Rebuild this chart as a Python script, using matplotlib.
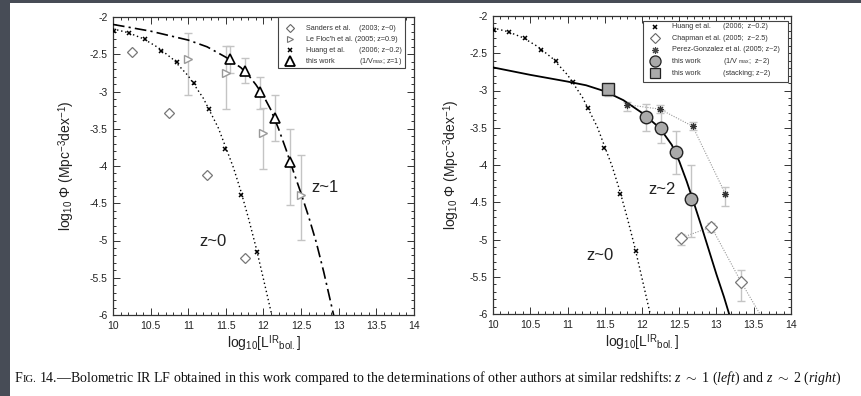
import numpy as np
import matplotlib.pyplot as plt
from matplotlib.patches import Rectangle
from matplotlib.ticker import MultipleLocator, FuncFormatter

plt.rcParams['font.family'] = ['Liberation Sans', 'DejaVu Sans']
plt.rcParams['axes.unicode_minus'] = False
plt.rcParams['mathtext.fontset'] = 'custom'
plt.rcParams['mathtext.rm'] = 'Liberation Sans'
plt.rcParams['mathtext.it'] = 'Liberation Serif:italic'

# ---------------- data ----------------
# Huang et al. (2006; z~0.2) - both panels
huang_x = [10.01, 10.21, 10.43, 10.64, 10.85, 11.07, 11.27, 11.49, 11.70, 11.92]
huang_y = [-2.19, -2.22, -2.30, -2.46, -2.60, -2.89, -3.24, -3.77, -4.39, -5.16]

# z~0 fit (dotted), both panels
fit0_x = [10.0, 10.2, 10.4, 10.6, 10.8, 11.0, 11.2, 11.4, 11.6, 11.7, 11.8, 11.9, 12.0, 12.11]
fit0_y = [-2.16, -2.21, -2.29, -2.41, -2.57, -2.79, -3.09, -3.49, -4.02, -4.34, -4.70, -5.09, -5.52, -6.0]

# left panel: Sanders et al. (2003; z~0)
sanders_x = [10.25, 10.75, 11.25, 11.75]
sanders_y = [-2.47, -3.29, -4.12, -5.23]

# left panel: Le Floc'h et al. (2005; z=0.9)
lefloch_x = [11.0, 11.5, 12.0, 12.5]
lefloch_y = [-2.56, -2.75, -3.56, -4.39]
lefloch_hi = [-2.21, -2.39, -3.22, -3.85]
lefloch_lo = [-3.05, -3.24, -4.04, -4.99]

# left panel: this work (1/Vmax; z=1)
z1_x = [11.55, 11.75, 11.95, 12.15, 12.35]
z1_y = [-2.57, -2.72, -3.00, -3.35, -3.95]
z1_hi = [-2.39, -2.55, -2.80, -3.05, -3.50]
z1_lo = [-2.75, -2.89, -3.24, -3.66, -4.52]

# z~1 fit (dash-dot)
fit1_x = [10.0, 10.5, 11.0, 11.25, 11.5, 11.7, 11.8, 11.9, 12.0, 12.1, 12.2, 12.3, 12.4, 12.5,
          12.6, 12.7, 12.8, 12.9, 12.95]
fit1_y = [-2.10, -2.19, -2.31, -2.40, -2.54, -2.68, -2.78, -2.91, -3.06, -3.25, -3.50, -3.78,
          -4.08, -4.37, -4.68, -5.02, -5.42, -5.86, -6.08]

# right panel: this work (1/Vmax; z~2)
z2_x = [12.05, 12.25, 12.45, 12.66]
z2_y = [-3.36, -3.51, -3.83, -4.45]
z2_hi = [-3.18, -3.26, -3.54, -4.00]
z2_lo = [-3.54, -3.71, -4.12, -4.97]

# right panel: this work (stacking; z~2)
stack_x = [11.55]
stack_y = [-2.98]
stack_hi = [-2.93]
stack_lo = [-3.08]

# right panel: Perez-Gonzalez et al. (2005; z~2)
perez_x = [11.80, 12.24, 12.68, 13.12]
perez_y = [-3.19, -3.25, -3.48, -4.39]
perez_hi = [-3.15, -3.19, -3.42, -4.30]
perez_lo = [-3.28, -3.30, -3.53, -4.55]

# right panel: Chapman et al. (2005; z~2.5)
chapman_x = [12.52, 12.93, 13.33, 13.73]
chapman_y = [-4.98, -4.83, -5.57, -6.25]
chapman_hi = [-4.92, -4.78, -5.41, -6.15]
chapman_lo = [-5.08, -4.90, -5.82, -6.40]

# z~2 fit (solid)
fit2_x = [10.0, 10.5, 11.0, 11.25, 11.5, 11.75, 12.0, 12.2, 12.3, 12.4, 12.5, 12.6, 12.7,
          12.8, 12.9, 13.0, 13.1, 13.2]
fit2_y = [-2.69, -2.79, -2.88, -2.93, -3.01, -3.13, -3.30, -3.47, -3.59, -3.73, -3.95, -4.22,
          -4.52, -4.83, -5.15, -5.47, -5.77, -6.10]

caption = ("14.\u2014Bolometric IR LF obtained in this work compared to the determinations of "
           "other authors at similar redshifts: $z$ $\\sim$ 1 ($\\mathit{left}$) and "
           "$z$ $\\sim$ 2 ($\\mathit{right}$)")

# ---------------- figure ----------------
W, H = 862, 396
fig = plt.figure(figsize=(W / 100, H / 100), dpi=100)
fig.patch.set_facecolor('#474c56')
fig.add_artist(Rectangle((10 / W, 0), 1, (H - 3) / H, transform=fig.transFigure,
                         facecolor='white', edgecolor='none', zorder=-10))

axL = fig.add_axes([113 / W, 1 - 315 / H, 301 / W, 298 / H])
axR = fig.add_axes([493 / W, 1 - 314 / H, 298 / W, 298 / H])

gray_err = '#c4c4c4'
fmt = FuncFormatter(lambda v, p: '%g' % v)


def style_axes(ax, ylab_x):
    ax.set_xlim(10, 14)
    ax.set_ylim(-6, -2)
    ax.xaxis.set_major_locator(MultipleLocator(0.5))
    ax.xaxis.set_minor_locator(MultipleLocator(0.1))
    ax.yaxis.set_major_locator(MultipleLocator(0.5))
    ax.yaxis.set_minor_locator(MultipleLocator(0.1))
    ax.xaxis.set_major_formatter(fmt)
    ax.yaxis.set_major_formatter(fmt)
    ax.tick_params(which='both', direction='in', top=True, right=True, colors='#333333',
                   labelcolor='#222222', labelsize=7.5, width=0.7)
    ax.tick_params(which='major', length=5, pad=4)
    ax.tick_params(which='minor', length=2.5)
    for s in ax.spines.values():
        s.set_color('#333333')
        s.set_linewidth(0.9)
    ax.set_ylabel('log$_{10}$ \u03a6 (Mpc$^{-3}$dex$^{-1}$)', fontsize=10, color='#222222')
    ax.yaxis.set_label_coords(ylab_x, 0.5)
    ax.set_xlabel('log$_{10}$[L$^{\\mathrm{IR}}{}_{\\mathrm{bol.}}$]', fontsize=10,
                  color='#222222', va='top')
    ax.xaxis.set_label_coords(0.5, -0.062)


def errbars(ax, x, y, hi, lo):
    yerr = [np.array(y) - np.array(lo), np.array(hi) - np.array(y)]
    ax.errorbar(x, y, yerr=yerr, fmt='none', ecolor=gray_err, elinewidth=1.0,
                capsize=3, capthick=1.0, zorder=2)


def draw_legend(ax, box, rows, labels, notes, markers, note_x, fs=5.2):
    x0, y0, x1, y1 = box
    ax.add_patch(Rectangle((x0, y0), x1 - x0, y1 - y0, transform=ax.transAxes,
                           facecolor='white', edgecolor='#444444', lw=0.8,
                           zorder=6, clip_on=False))
    mx, tx = markers['x'], markers['tx']
    for y, lab, note, st, nx in zip(rows, labels, notes, markers['styles'], note_x):
        ax.plot([mx], [y], transform=ax.transAxes, clip_on=False, zorder=7, ls='none', **st)
        ax.text(tx, y, lab, transform=ax.transAxes, fontsize=fs, va='center',
                color='#333333', zorder=7)
        if note:
            ax.text(nx, y, note, transform=ax.transAxes, fontsize=fs, va='center',
                    color='#333333', zorder=7)


huang_style = dict(marker='x', color='black', ms=3.5, mew=1.1)

# ---------------- left panel ----------------
style_axes(axL, -0.118)
axL.plot(fit0_x, fit0_y, ls=(0, (1, 2)), color='black', lw=1.0, zorder=3)
axL.plot(fit1_x, fit1_y, ls=(0, (7, 2.5, 1.3, 2.5)), color='black', lw=1.2, zorder=3)
errbars(axL, lefloch_x, lefloch_y, lefloch_hi, lefloch_lo)
errbars(axL, z1_x, z1_y, z1_hi, z1_lo)
axL.plot(sanders_x, sanders_y, ls='none', marker='D', ms=5.5, mfc='white', mec='#777777',
         mew=0.9, zorder=4)
axL.plot(lefloch_x, lefloch_y, ls='none', marker='>', ms=6, mfc='white', mec='#999999',
         mew=1.0, zorder=4)
axL.plot(huang_x, huang_y, ls='none', zorder=4, **huang_style)
axL.plot(z1_x, z1_y, ls='none', marker='^', ms=7.5, mfc='white', mec='black', mew=1.2,
         zorder=5)
axL.text(11.33, -5.01, 'z~0', fontsize=12, ha='center', va='center', color='#222222')
axL.text(12.82, -4.29, 'z~1', fontsize=12, ha='center', va='center', color='#222222')

draw_legend(
    axL, (0.548, 0.829, 0.970, 1.0),
    [0.962, 0.925, 0.888, 0.851],
    ['Sanders et al.', "Le Floc'h et al. (2005; z=0.9)", 'Huang et al.', 'this work'],
    ['(2003; z~0)', '', '(2006; z~0.2)', '(1/V$_{\\mathrm{max}}$; z=1)'],
    dict(x=0.588, tx=0.641, styles=[
        dict(marker='D', ms=4.5, mfc='white', mec='#666666', mew=0.8),
        dict(marker='>', ms=5, mfc='white', mec='#777777', mew=0.8),
        dict(marker='x', color='black', ms=3.5, mew=1.1),
        dict(marker='^', ms=7, mfc='white', mec='black', mew=1.3),
    ]),
    [0.817, 0.817, 0.817, 0.817])

# ---------------- right panel ----------------
style_axes(axR, -0.104)
axR.plot(fit0_x, fit0_y, ls=(0, (1, 2)), color='black', lw=1.0, zorder=3)
axR.plot(fit2_x, fit2_y, ls='-', color='black', lw=1.3, zorder=3)
axR.plot(perez_x, perez_y, ls=(0, (1, 1.3)), color='#999999', lw=0.8, zorder=2)
axR.plot(chapman_x, chapman_y, ls=(0, (1, 1.3)), color='#999999', lw=0.8, zorder=2)
errbars(axR, perez_x, perez_y, perez_hi, perez_lo)
errbars(axR, chapman_x, chapman_y, chapman_hi, chapman_lo)
errbars(axR, z2_x, z2_y, z2_hi, z2_lo)
errbars(axR, stack_x, stack_y, stack_hi, stack_lo)
axR.plot(huang_x, huang_y, ls='none', zorder=4, **huang_style)
axR.plot(perez_x, perez_y, ls='none', marker=(8, 2, 0), ms=5, color='#333333', mew=0.8,
         zorder=4)
axR.plot(chapman_x, chapman_y, ls='none', marker='D', ms=6, mfc='white', mec='#777777',
         mew=0.9, zorder=4)
axR.plot(z2_x, z2_y, ls='none', marker='o', ms=9, mfc='#aaaaaa', mec='#222222', mew=1.0,
         zorder=5)
axR.plot(stack_x, stack_y, ls='none', marker='s', ms=8, mfc='#aaaaaa', mec='#222222',
         mew=1.0, zorder=5)
axR.text(11.43, -5.22, 'z~0', fontsize=12, ha='center', va='center', color='#222222')
axR.text(12.27, -4.33, 'z~2', fontsize=12, ha='center', va='center', color='#222222')

draw_legend(
    axR, (0.503, 0.779, 0.990, 0.983),
    [0.964, 0.925, 0.886, 0.848, 0.808],
    ['Huang et al.', 'Chapman et al.', 'Perez-Gonzalez et al. (2005; z~2)', 'this work',
     'this work'],
    ['(2006;  z~0.2)', '(2005;  z~2.5)', '', '(1/V $_{\\mathrm{max}}$;  z~2)',
     '(stacking; z~2)'],
    dict(x=0.544, tx=0.601, styles=[
        dict(marker='x', color='black', ms=3.5, mew=1.1),
        dict(marker='D', ms=5, mfc='white', mec='#666666', mew=0.8),
        dict(marker=(8, 2, 0), ms=5, color='#444444', mew=0.8),
        dict(marker='o', ms=8, mfc='#aaaaaa', mec='#222222', mew=0.9),
        dict(marker='s', ms=6.5, mfc='#aaaaaa', mec='#222222', mew=0.9),
    ]),
    [0.773, 0.773, 0.773, 0.773, 0.773])

# ---------------- caption (small caps "Fig.") ----------------
serif = ['Liberation Serif', 'DejaVu Serif']
cap_y = 1 - 382 / H
fig.canvas.draw()
r = fig.canvas.get_renderer()
t = fig.text(15 / W, cap_y, 'F', fontsize=10.0, family=serif, va='baseline', color='#111111')
x = t.get_window_extent(r).x1
t = fig.text(x / W, cap_y, 'IG.', fontsize=7.7, family=serif, va='baseline', color='#111111')
x = t.get_window_extent(r).x1 + 3
fig.text(x / W, cap_y, caption, fontsize=10.0, family=serif, va='baseline', color='#111111')

fig.savefig('out.png', dpi=100, facecolor=fig.get_facecolor())
